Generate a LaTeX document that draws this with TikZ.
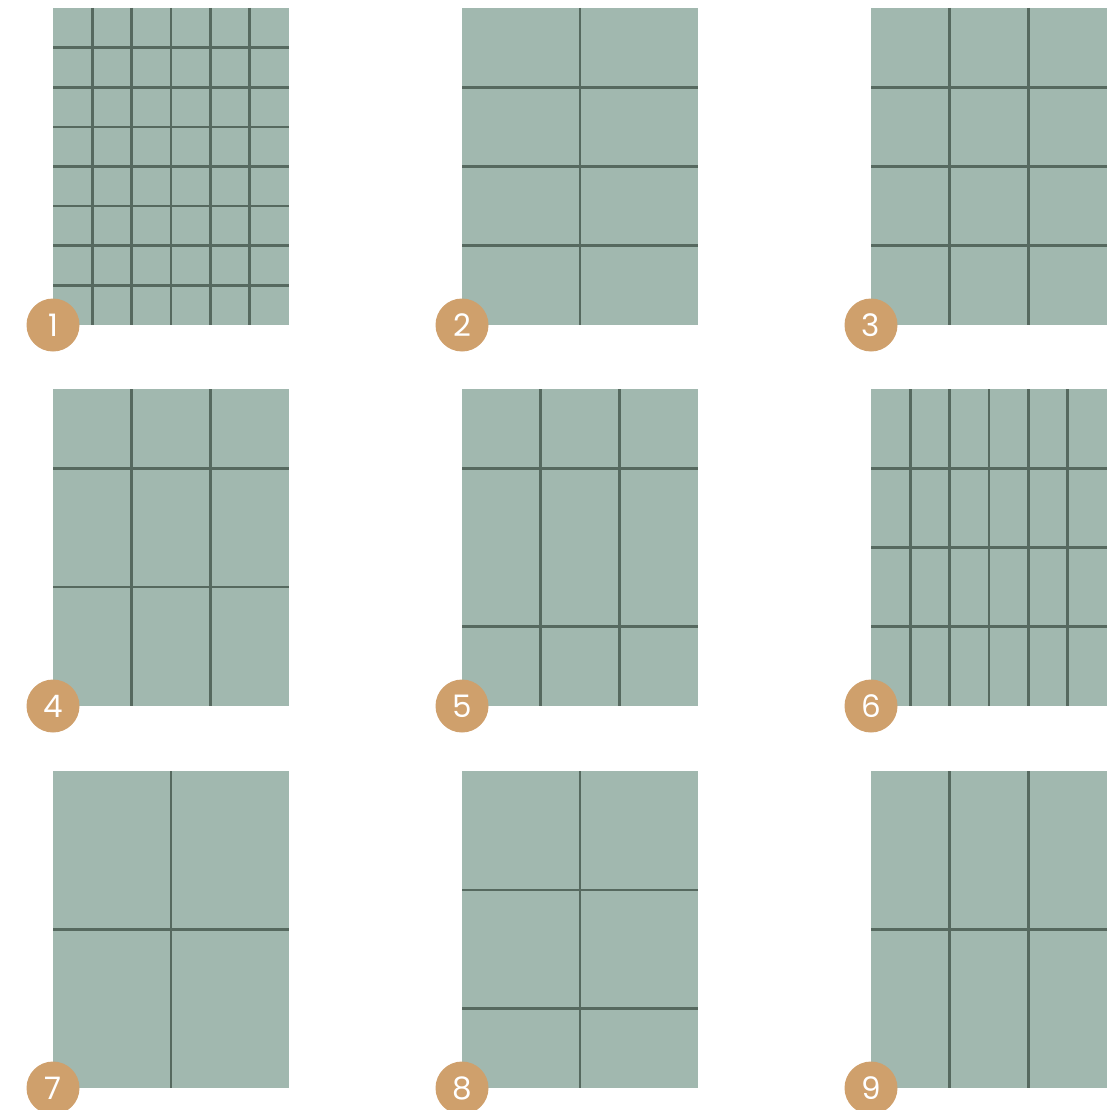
\documentclass[tikz,border=0pt]{standalone}
\usepackage{fontspec}
\setmainfont{Poppins}
\definecolor{panelfill}{HTML}{A1B8AF}
\definecolor{gridcol}{HTML}{56695F}
\definecolor{badgecol}{HTML}{CFA06C}
\newcommand\gridpanel[4]{%
  \fill[panelfill] (#1,-#2) rectangle ++(236,-317);
  \foreach \v in {#3} \draw[gridln] (#1+\v,-#2) -- ++(0,-317);
  \foreach \h in {#4} \draw[gridln] (#1,-#2-\h) -- ++(236,0);
}
\begin{document}
\begin{tikzpicture}[x=1pt,y=1pt,
  gridln/.style={draw=gridcol,line width=2.6pt},
  badge/.style={circle,fill=badgecol,minimum size=53pt,inner sep=0pt,text=white,font=\fontsize{31}{31}\selectfont}]
\useasboundingbox (0,0) rectangle (1109,-1110);
% row 1
\gridpanel{53}{8}{39.33,78.67,118,157.33,196.67}{39.6,79.25,118.9,158.5,198.1,237.75,277.4}
\gridpanel{462}{8}{118}{79.25,158.5,237.75}
\gridpanel{871}{8}{78.67,157.33}{79.25,158.5,237.75}
% row 2
\gridpanel{53}{389}{78.67,157.33}{79.25,198.1}
\gridpanel{462}{389}{78.67,157.33}{79.25,237.75}
\gridpanel{871}{389}{39.33,78.67,118,157.33,196.67}{79.25,158.5,237.75}
% row 3
\gridpanel{53}{771}{118}{158.5}
\gridpanel{462}{771}{118}{118.9,237.75}
\gridpanel{871}{771}{78.67,157.33}{158.5}
% badges
\node[badge] (b1) at (53,-325) {1};
\node[badge] (b2) at (462,-325) {2};
\node[badge] (b3) at (871,-325) {3};
\node[badge] (b4) at (53,-706) {4};
\node[badge] (b5) at (462,-706) {5};
\node[badge] (b6) at (871,-706) {6};
\node[badge] (b7) at (53,-1088) {7};
\node[badge] (b8) at (462,-1088) {8};
\node[badge] (b9) at (871,-1088) {9};
\end{tikzpicture}
\end{document}
